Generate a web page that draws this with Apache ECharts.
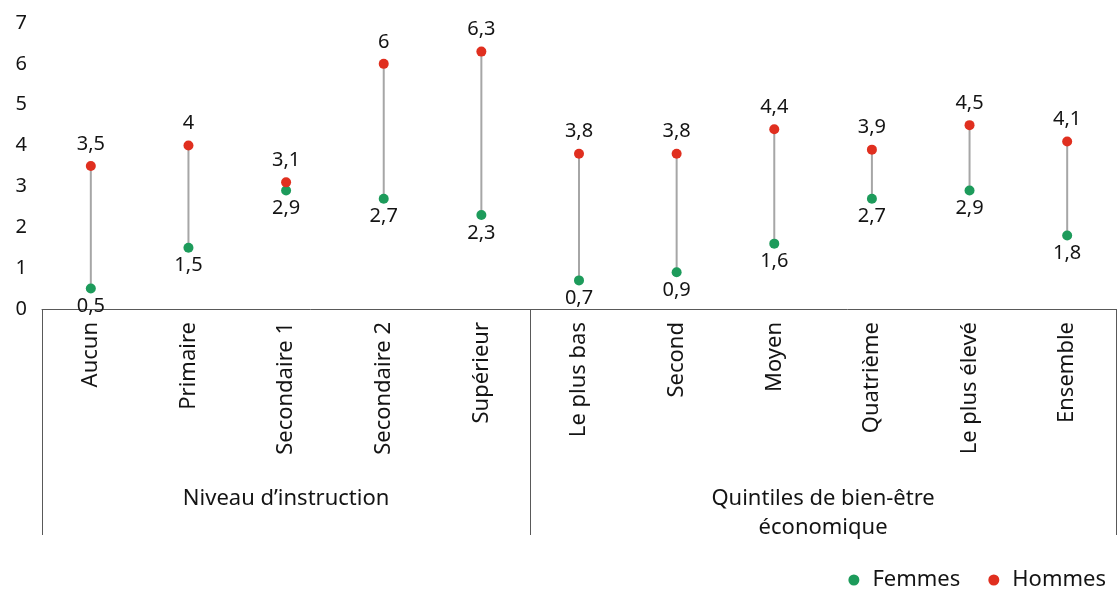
<!DOCTYPE html>
<html lang="fr">
<head>
<meta charset="utf-8" />
<title>Femmes / Hommes</title>
<script src="https://cdn.jsdelivr.net/npm/echarts@6/dist/echarts.min.js"></script>
<style>
    html, body { margin: 0; padding: 0; background: #fff; }
    #main { width: 1117px; height: 590px; }
</style>
</head>
<body>
<div id="main"></div>
<script>
    // categories and values
    var categories = ['Aucun', 'Primaire', 'Secondaire 1', 'Secondaire 2', 'Supérieur',
                      'Le plus bas', 'Second', 'Moyen', 'Quatrième', 'Le plus élevé', 'Ensemble'];
    var femmes = [0.5, 1.5, 2.9, 2.7, 2.3, 0.7, 0.9, 1.6, 2.7, 2.9, 1.8];
    var hommes = [3.5, 4.0, 3.1, 6.0, 6.3, 3.8, 3.8, 4.4, 3.9, 4.5, 4.1];
    var yTicks = [0, 1, 2, 3, 4, 5, 6, 7];
    var groupNames = ['Niveau d\u2019instruction', 'Quintiles de bien-être\néconomique'];
    var groupSizes = [5, 6];

    var FONT = '"Noto Sans", "Open Sans", sans-serif';
    var TXT = '#141414';
    var GREEN = '#1d9b5b';
    var RED = '#e02f1f';

    function fmt(v) {
        return String(v).replace('.', ',');
    }

    var myChart = echarts.init(document.getElementById('main'));

    var pairs = [];
    for (var i = 0; i < categories.length; i++) {
        pairs.push([i, femmes[i], hommes[i]]);
    }

    myChart.setOption({
        animation: false,
        textStyle: { fontFamily: FONT },
        grid: { left: 42, right: 1, top: 23, bottom: 281, containLabel: false },
        legend: {
            right: 6,
            top: 564,
            itemGap: 28,
            itemWidth: 11,
            itemHeight: 11,
            textStyle: { fontSize: 22, color: TXT, fontFamily: FONT, padding: [0, 0, 0, 8] },
            data: [
                { name: 'Femmes', icon: 'circle' },
                { name: 'Hommes', icon: 'circle' }
            ]
        },
        xAxis: {
            type: 'category',
            data: categories,
            boundaryGap: true,
            axisLine: { show: true, lineStyle: { color: '#595959', width: 1 } },
            axisTick: { show: false },
            axisLabel: {
                rotate: 90,
                interval: 0,
                margin: 13,
                fontSize: 22,
                color: TXT,
                fontFamily: FONT
            }
        },
        yAxis: {
            type: 'value',
            min: yTicks[0],
            max: yTicks[yTicks.length - 1],
            interval: 1,
            axisLine: { show: false },
            axisTick: { show: false },
            splitLine: { show: false },
            axisLabel: {
                margin: 15,
                fontSize: 20,
                color: TXT,
                fontFamily: FONT,
                verticalAlign: 'middle',
                padding: [0, 0, 4, 0]
            }
        },
        series: [
            {
                name: 'lien',
                type: 'custom',
                data: pairs,
                z: 1,
                silent: true,
                renderItem: function (params, api) {
                    var a = api.coord([api.value(0), api.value(1)]);
                    var b = api.coord([api.value(0), api.value(2)]);
                    return {
                        type: 'line',
                        shape: { x1: a[0], y1: a[1], x2: b[0], y2: b[1] },
                        style: { stroke: '#a6a6a6', lineWidth: 2 }
                    };
                }
            },
            {
                name: 'Femmes',
                type: 'scatter',
                data: femmes,
                symbol: 'circle',
                symbolSize: 10,
                z: 3,
                itemStyle: { color: GREEN, opacity: 1 },
                label: {
                    show: true,
                    position: 'bottom',
                    distance: 3,
                    fontSize: 20,
                    color: TXT,
                    fontFamily: FONT,
                    formatter: function (p) { return fmt(p.value); }
                }
            },
            {
                name: 'Hommes',
                type: 'scatter',
                data: hommes,
                symbol: 'circle',
                symbolSize: 10,
                z: 3,
                itemStyle: { color: RED, opacity: 1 },
                label: {
                    show: true,
                    position: 'top',
                    distance: 7,
                    fontSize: 20,
                    color: TXT,
                    fontFamily: FONT,
                    formatter: function (p) { return fmt(p.value); }
                }
            }
        ]
    });

    // group separators and group names, placed through the x axis scale
    function edge(idx) {
        // left edge of category idx (idx may equal categories.length)
        var c0 = myChart.convertToPixel({ xAxisIndex: 0 }, 0);
        var c1 = myChart.convertToPixel({ xAxisIndex: 0 }, 1);
        var w = c1 - c0;
        return c0 - w / 2 + idx * w;
    }

    var axisY = myChart.convertToPixel({ yAxisIndex: 0 }, 0);
    var elements = [];
    var start = 0;
    for (var g = 0; g <= groupSizes.length; g++) {
        var x = Math.round(edge(start)) + 0.5;
        elements.push({
            type: 'line',
            shape: { x1: x, y1: axisY, x2: x, y2: 535 },
            style: { stroke: '#595959', lineWidth: 1 },
            silent: true
        });
        if (g < groupSizes.length) {
            var mid = (edge(start) + edge(start + groupSizes[g])) / 2;
            elements.push({
                type: 'text',
                x: mid,
                y: 484,
                style: {
                    text: groupNames[g],
                    fill: TXT,
                    font: '22px ' + FONT,
                    align: 'center',
                    verticalAlign: 'top',
                    lineHeight: 29
                },
                silent: true
            });
            start += groupSizes[g];
        }
    }
    myChart.setOption({ graphic: elements });
</script>
</body>
</html>
